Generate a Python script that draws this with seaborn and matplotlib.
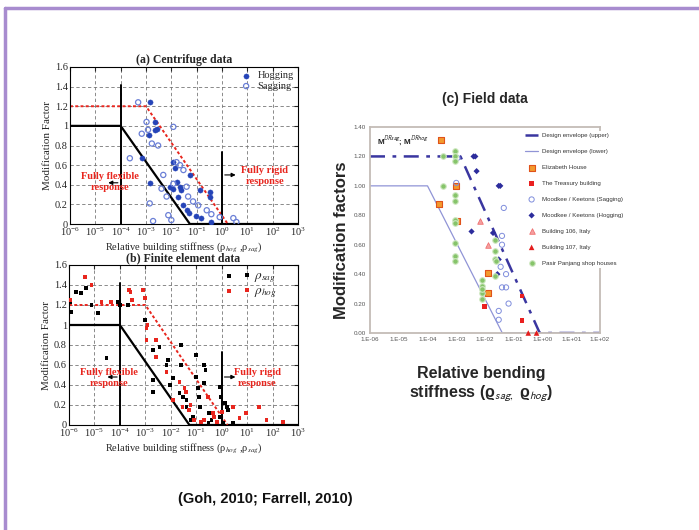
import numpy as np
import pandas as pd
import matplotlib
matplotlib.use("Agg")
import matplotlib.pyplot as plt
import seaborn as sns
from matplotlib.lines import Line2D
from matplotlib.ticker import FixedLocator, FuncFormatter, NullLocator

sns.set_style("white")
plt.rcParams["font.family"] = ["Liberation Serif", "DejaVu Serif"]
plt.rcParams["mathtext.fontset"] = "stix"

# ---- design envelopes (panels a and b)
env_x = [1e-6, 1e-4, 5.4e-2, 1e3]
env_y = [1.0, 1.0, 0.0, 0.0]
red_x = [1e-6, 1e-3, 1.7]
red_y = [1.2, 1.2, 0.0]

# ---- (a) centrifuge data
hog_a_x = [1.4e-3, 2.2e-3, 2.8e-3, 2.2e-3, 1.35e-3, 6.8e-4, 1.5e-3, 1.2e-2, 1.4e-2, 8.7e-3,
           1.2e-2, 2.2e-2, 2.5e-2, 1.9e-2, 3.0e-2, 4.0e-2, 5.0e-2, 5.4e-2, 9.8e-2, 0.155,
           0.33, 0.33, 0.38, 0.135, 1.6e-2]
hog_a_y = [1.24, 1.04, 0.97, 0.96, 0.91, 0.67, 0.42, 0.63, 0.57, 0.38,
           0.36, 0.38, 0.35, 0.28, 0.19, 0.14, 0.11, 0.50, 0.08, 0.06,
           0.28, 0.33, 0.02, 0.35, 0.43]
sag_a_x = [4.9e-4, 1.05e-3, 1.2e-3, 6.8e-4, 1.7e-3, 3.0e-3, 1.2e-2, 2.3e-4, 1.4e-3, 4.8e-3,
           4.1e-3, 6.5e-3, 7.6e-3, 1.0e-2, 1.9e-3, 1.6e-2, 2.2e-2, 3.0e-2, 4.6e-2, 7.2e-2,
           0.115, 0.25, 0.38, 0.81, 2.8, 3.7, 1.2e-2, 4.0e-2]
sag_a_y = [1.24, 1.04, 0.96, 0.92, 0.82, 0.80, 0.99, 0.67, 0.21, 0.50,
           0.36, 0.28, 0.09, 0.04, 0.03, 0.63, 0.60, 0.55, 0.28, 0.23,
           0.19, 0.14, 0.10, 0.07, 0.06, 0.02, 0.41, 0.38]

# ---- (b) finite element data
sag_b_x = [1.1e-6, 1.2e-6, 1.9e-6, 3.0e-6, 4.8e-6, 7.6e-6, 1.4e-5, 3.0e-5, 8.5e-5, 1e-4,
           2.1e-4, 9.5e-4, 2.0e-3, 2.0e-3, 2.0e-3, 3.6e-3, 6.8e-3, 7.8e-3, 1.2e-2, 9.1e-3,
           2.6e-2, 2.6e-2, 2.2e-2, 3.0e-2, 4.1e-2, 4.1e-2, 7.6e-2, 0.10, 0.10, 0.12,
           0.13, 0.14, 0.20, 0.23, 0.20, 0.32, 0.40, 0.83, 0.95, 1.1,
           1.4, 1.6, 1.8, 0.83, 0.65, 1.1, 2.8, 0.06, 0.15, 0.30]
sag_b_y = [1.23, 1.13, 1.33, 1.32, 1.37, 1.20, 1.12, 0.67, 1.23, 1.20,
           1.20, 1.05, 0.75, 0.45, 0.33, 0.78, 0.60, 0.65, 0.47, 0.40,
           0.80, 0.60, 0.32, 0.28, 0.25, 0.18, 0.08, 0.70, 0.48, 0.37,
           0.28, 0.18, 0.60, 0.55, 0.42, 0.12, 0.05, 0.38, 0.28, 0.22,
           0.22, 0.18, 0.15, 0.08, 0.03, 0.02, 0.02, 0.05, 0.03, 0.02]
hog_b_x = [1.1e-6, 4.2e-6, 7.6e-6, 1.9e-5, 4.6e-5, 2.3e-4, 2.6e-4, 8.1e-4, 9.5e-4, 3.0e-4,
           1.1e-3, 1.2e-3, 2.7e-3, 1.1e-3, 2.7e-3, 6.8e-3, 2.2e-2, 3.5e-2, 4.0e-2, 2.9e-2,
           5.2e-2, 8.1e-2, 0.15, 0.20, 0.29, 0.45, 0.65, 1.0, 2.8, 5.0,
           8.9, 30, 58, 260, 1.2e-2, 6e-2, 0.5]
hog_b_y = [1.25, 1.48, 1.40, 1.23, 1.23, 1.35, 1.33, 1.35, 1.27, 1.25,
           0.97, 1.00, 0.85, 0.85, 0.68, 0.53, 0.43, 0.37, 0.33, 0.18,
           0.15, 0.05, 0.03, 0.05, 0.28, 0.12, 0.03, 0.13, 0.18, 0.07,
           0.12, 0.18, 0.05, 0.03, 0.25, 0.20, 0.08]

# ---- (c) field data
upper_x = [1e-6, 1.4e-3, 0.8, 1e2]
upper_y = [1.2, 1.2, 0.0, 0.0]
lower_x = [1e-6, 1e-4, 4e-2, 1e2]
lower_y = [1.0, 1.0, 0.0, 0.0]
eliz_x = [3e-4, 1e-3, 2.6e-4, 1.1e-3, 1.3e-2, 1.3e-2]
eliz_y = [1.31, 1.00, 0.88, 0.76, 0.41, 0.27]
treas_x = [0.19, 0.19, 9.5e-3]
treas_y = [0.25, 0.085, 0.18]
mk_sag_x = [4.5e-2, 3.9e-2, 3.9e-2, 3.5e-2, 5.4e-2, 3.9e-2, 5.4e-2, 6.6e-2, 3.0e-2, 3.0e-2, 1.1e-3, 1.0e-3]
mk_sag_y = [0.85, 0.66, 0.60, 0.45, 0.40, 0.31, 0.31, 0.20, 0.15, 0.09, 1.19, 1.02]
mk_hog_x = [4.0e-3, 4.6e-3, 5.1e-3, 3.0e-2, 3.4e-2, 3.4e-3, 1.9e-2, 3.0e-2, 2.7e-2]
mk_hog_y = [1.20, 1.20, 1.10, 1.00, 1.00, 0.69, 0.68, 0.50, 0.40]
b106_x = [6.6e-3, 1.3e-2]
b106_y = [0.76, 0.60]
b107_x = [0.32, 0.62]
b107_y = [0.0, 0.0]
pasir_x = [8.7e-4, 8.7e-4, 8.7e-4, 3.4e-4, 3.4e-4, 8.7e-4, 8.7e-4, 8.7e-4, 8.7e-4, 8.7e-4,
           8.7e-4, 8.7e-4, 7.6e-3, 7.6e-3, 7.6e-3, 7.6e-3, 2.2e-2, 2.2e-2, 2.2e-2, 2.2e-2,
           2.5e-2, 8e-3]
pasir_y = [1.24, 1.20, 1.17, 1.20, 1.00, 0.94, 0.90, 0.77, 0.75, 0.61,
           0.52, 0.49, 0.36, 0.32, 0.27, 0.23, 0.63, 0.56, 0.50, 0.39,
           0.49, 0.30]

W, H = 699, 530
fig = plt.figure(figsize=(W / 100, H / 100), dpi=100)


def box(l, t, r, b):
    return [l / W, 1 - b / H, (r - l) / W, (b - t) / H]


def panel_ab(ax, title, xlab):
    ax.set_xscale("log")
    ax.set_xlim(1e-6, 1e3)
    ax.set_ylim(0, 1.6)
    ax.xaxis.set_major_locator(FixedLocator([10.0 ** k for k in range(-6, 4)]))
    ax.xaxis.set_minor_locator(NullLocator())
    ax.yaxis.set_major_locator(FixedLocator(np.arange(0, 1.61, 0.2)))
    ax.yaxis.set_major_formatter(FuncFormatter(lambda v, p: f"{v:g}"))
    ax.tick_params(direction="in", top=True, right=True, labelsize=7.5, length=3, pad=1.5)
    ax.grid(True, ls=(0, (4, 3)), color="#777777", lw=0.6)
    for s in ax.spines.values():
        s.set_color("black")
        s.set_linewidth(0.8)
    sns.lineplot(x=env_x, y=env_y, ax=ax, color="black", lw=1.6, sort=False, estimator=None)
    sns.lineplot(x=red_x, y=red_y, ax=ax, color="#e8261e", lw=1.4, ls=(0, (1.5, 1.2)),
                 sort=False, estimator=None)
    ax.plot([1e-4, 1e-4], [0, 1.42], color="black", lw=1.4)
    ax.plot([1.0, 1.0], [0, 0.73], color="black", lw=1.4)
    ax.set_title(title, fontsize=8.5, fontweight="bold", pad=3)
    ax.set_xlabel(xlab, fontsize=7.5, labelpad=1)
    ax.set_ylabel("Modification Factor", fontsize=8, labelpad=2)


# ---------------- (a)
ax1 = fig.add_axes(box(70, 67, 298, 224))
panel_ab(ax1, "(a) Centrifuge data", r"Relative building stiffness (ρ$_{hog}$ ,ρ$_{sag}$)")
sns.scatterplot(x=hog_a_x, y=hog_a_y, ax=ax1, color="#2544b8", s=14, edgecolor="#2544b8",
                marker="o", label="Hogging", zorder=3)
sns.scatterplot(x=sag_a_x, y=sag_a_y, ax=ax1, facecolor="none", edgecolor="#6a7fd6", s=14,
                marker="o", linewidth=0.9, label="Sagging", zorder=3)
ax1.annotate("", xy=(10 ** -4.6, 0.42), xytext=(1e-4, 0.42),
             arrowprops=dict(arrowstyle="-|>", color="black", lw=0.8, mutation_scale=6))
ax1.annotate("", xy=(10 ** 0.65, 0.5), xytext=(1.0, 0.5),
             arrowprops=dict(arrowstyle="-|>", color="black", lw=0.8, mutation_scale=6))
ax1.text(10 ** -4.42, 0.43, "Fully flexible\nresponse", color="#e8261e", fontsize=7.5,
         fontweight="bold", ha="center", va="center", linespacing=1.3)
ax1.text(10 ** 1.69, 0.49, "Fully rigid\nresponse", color="#e8261e", fontsize=7.5,
         fontweight="bold", ha="center", va="center", linespacing=1.3)
ax1.legend(loc="upper right", frameon=False, fontsize=7.5, handletextpad=0.1,
           borderaxespad=0.2, labelspacing=0.1, borderpad=0.2)

# ---------------- (b)
ax2 = fig.add_axes(box(69, 265, 298, 425))
panel_ab(ax2, "(b) Finite element data", r"Relative building stiffness (ρ$_{hog}$ ,ρ$_{sag}$)")
sns.scatterplot(x=sag_b_x, y=sag_b_y, ax=ax2, color="black", s=7, marker="s",
                edgecolor="none", label=r"$\rho_{sag}$", zorder=3)
sns.scatterplot(x=hog_b_x, y=hog_b_y, ax=ax2, color="#e8261e", s=7, marker="s",
                edgecolor="none", label=r"$\rho_{hog}$", zorder=3)
ax2.annotate("", xy=(10 ** -4.6, 0.48), xytext=(1e-4, 0.48),
             arrowprops=dict(arrowstyle="-|>", color="black", lw=0.8, mutation_scale=6))
ax2.annotate("", xy=(10 ** 0.65, 0.48), xytext=(1.0, 0.48),
             arrowprops=dict(arrowstyle="-|>", color="black", lw=0.8, mutation_scale=6))
ax2.text(10 ** -4.42, 0.47, "Fully flexible\nresponse", color="#e8261e", fontsize=7.5,
         fontweight="bold", ha="center", va="center", linespacing=1.3)
ax2.text(10 ** 1.41, 0.47, "Fully rigid\nresponse", color="#e8261e", fontsize=7.5,
         fontweight="bold", ha="center", va="center", linespacing=1.3)
ax2.legend(loc="upper right", frameon=False, fontsize=9.5, handletextpad=0.2,
           borderaxespad=0.2, labelspacing=0.0, borderpad=0.2, scatterpoints=2,
           bbox_to_anchor=(0.93, 1.0))

# ---------------- (c)
sans = ["Liberation Sans", "DejaVu Sans"]
ax3 = fig.add_axes(box(370, 127, 600, 333))
ax3.set_xscale("log")
ax3.set_xlim(1e-6, 1e2)
ax3.set_ylim(0, 1.4)
ax3.xaxis.set_major_locator(FixedLocator([10.0 ** k for k in range(-6, 3)]))
ax3.xaxis.set_minor_locator(NullLocator())
ax3.xaxis.set_major_formatter(FuncFormatter(lambda v, p: f"1.E{int(round(np.log10(v))):+03d}"))
ax3.yaxis.set_major_locator(FixedLocator(np.arange(0, 1.41, 0.2)))
ax3.yaxis.set_major_formatter(FuncFormatter(lambda v, p: f"{v:.2f}"))
ax3.tick_params(length=0, labelsize=4.5, labelcolor="#555555", pad=3)
for lab in ax3.get_xticklabels() + ax3.get_yticklabels():
    lab.set_family(sans)
for s in ax3.spines.values():
    s.set_color("#c4bcb6")
    s.set_linewidth(1.3)

sns.lineplot(x=lower_x, y=lower_y, ax=ax3, color="#9094d6", lw=0.9, sort=False,
             estimator=None, label="Design envelope (lower)")
sns.lineplot(x=upper_x, y=upper_y, ax=ax3, color="#3a36a0", lw=1.8, ls=(0, (6, 3, 1.5, 3)),
             sort=False, estimator=None, label="Design envelope (upper)")
sns.scatterplot(x=eliz_x, y=eliz_y, ax=ax3, marker="s", color="#f29a2e", edgecolor="#e0521a",
                s=14, linewidth=0.8, label="Elizabeth House", zorder=4)
sns.scatterplot(x=treas_x, y=treas_y, ax=ax3, marker="s", color="#ea2020", edgecolor="none",
                s=10, label="The Treasury building", zorder=4)
sns.scatterplot(x=mk_sag_x, y=mk_sag_y, ax=ax3, marker="o", facecolor="none",
                edgecolor="#7f8ddc", s=14, linewidth=0.7, label="Moodkee / Keetons (Sagging)",
                zorder=4)
sns.scatterplot(x=mk_hog_x, y=mk_hog_y, ax=ax3, marker="D", color="#2c2c9c", edgecolor="none",
                s=10, label="Moodkee / Keetons (Hogging)", zorder=4)
sns.scatterplot(x=b106_x, y=b106_y, ax=ax3, marker="^", color="#f4a0a0", edgecolor="#f07070",
                s=16, linewidth=0.6, label="Building 106, Italy", zorder=4)
sns.scatterplot(x=b107_x, y=b107_y, ax=ax3, marker="^", color="#e41c1c", edgecolor="none",
                s=16, label="Building 107, Italy", zorder=4, clip_on=False)
sns.scatterplot(x=pasir_x, y=pasir_y, ax=ax3, marker="o", color="#86c46a", edgecolor="#cfe8c2",
                s=16, linewidth=0.8, label="Pasir Panjang shop houses", zorder=4)

handles, labels = ax3.get_legend_handles_labels()
order = [1, 0, 2, 3, 4, 5, 6, 7, 8]
leg = ax3.legend([handles[i] for i in order], [labels[i] for i in order],
                 loc="upper left", bbox_to_anchor=(520 / W, 1 - 128 / H),
                 bbox_transform=fig.transFigure, frameon=True,
                 facecolor="white", edgecolor="none", framealpha=1, labelspacing=1.75,
                 handlelength=2.2, handletextpad=0.6, borderpad=0.3,
                 prop={"family": sans, "size": 4.4})
for t in leg.get_texts():
    t.set_color("#333333")

ax3.text(0.03, 0.965, r"M$^{\mathsf{DRsag}}$; M$^{\mathsf{DRhog}}$", transform=ax3.transAxes,
         fontsize=5.8, ha="left", va="top", family=sans, fontweight="bold", color="#222222")
ax3.set_title("(c) Field data", fontsize=10, fontweight="bold", family=sans, pad=17)
ax3.set_ylabel("Modification factors", fontsize=12, fontweight="bold", family=sans)
ax3.yaxis.set_label_coords(-0.09, 0.45)
fig.text(481 / W, 1 - 385 / H,
         "Relative bending\nstiffness (ϱ$_{\\mathsf{sag,}}$ ϱ$_{\\mathsf{hog}}$)",
         fontsize=11.5, fontweight="bold", family=sans, ha="center", va="center",
         linespacing=1.15)

fig.text(265 / W, 1 - 499 / H, "(Goh, 2010; Farrell, 2010)", fontsize=10.5,
         fontweight="bold", family=sans, ha="center", va="center", color="#111111")

# purple frame (top and left edges)
fig.add_artist(Line2D([5 / W, 1.0], [1 - 8 / H, 1 - 8 / H], transform=fig.transFigure,
                      color="#a88ccf", lw=2.5))
fig.add_artist(Line2D([5 / W, 5 / W], [0.0, 1 - 8 / H], transform=fig.transFigure,
                      color="#a88ccf", lw=2.5))

fig.savefig("out.png", dpi=100)
